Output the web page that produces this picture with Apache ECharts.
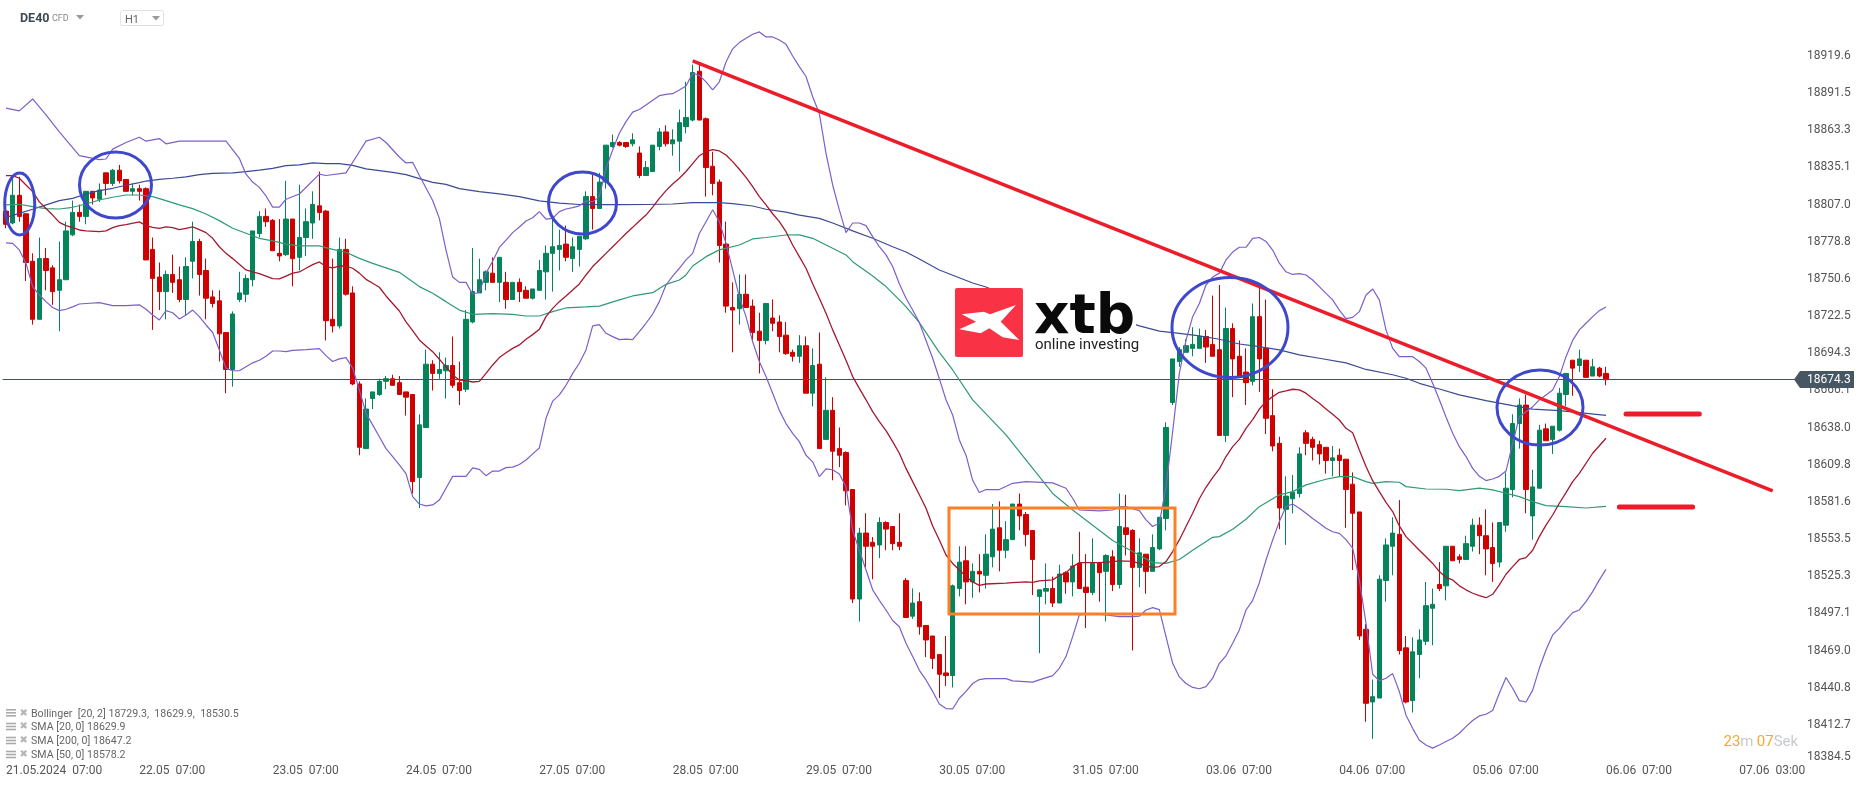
<!DOCTYPE html>
<html>
<head>
<meta charset="utf-8">
<style>html,body{margin:0;padding:0;background:#fff}#c{width:1866px;height:787px}</style>
<script src="https://cdn.jsdelivr.net/npm/echarts@6/dist/echarts.min.js"></script>
</head>
<body>
<div id="c"></div>
<script>
const xTickLabels = ['21.05.2024  07:00','22.05  07:00','23.05  07:00','24.05  07:00','27.05  07:00','28.05  07:00','29.05  07:00','30.05  07:00','31.05  07:00','03.06  07:00','04.06  07:00','05.06  07:00','06.06  07:00','07.06  03:00'];
const yTickValues = [18919.6,18891.5,18863.3,18835.1,18807.0,18778.8,18750.6,18722.5,18694.3,18666.1,18638.0,18609.8,18581.6,18553.5,18525.3,18497.1,18469.0,18440.8,18412.7,18384.5];
const lastPrice = 18674.3;
// [open, close, low, high]
const candles = [
[18802,18792,18789,18805],[18793,18814,18792,18827],[18814,18798,18794,18828],[18800,18763,18749,18800],[18764,18720,18716,18770],[18720,18766,18720,18782],[18766,18757,18742,18774],[18759,18741,18731,18761],[18742,18750,18711,18779],[18750,18787,18750,18794],
[18784,18801,18783,18810],[18801,18798,18794,18807],[18798,18817,18792,18817],[18817,18812,18807,18817],[18811,18818,18809,18823],[18831,18823,18814,18831],[18823,18833,18821,18834],[18833,18825,18823,18837],[18826,18817,18817,18826],[18817,18819,18814,18823],
[18819,18817,18810,18822],[18819,18765,18765,18820],[18773,18751,18712,18782],[18752,18741,18727,18763],[18741,18754,18720,18757],[18754,18748,18740,18769],[18750,18735,18733,18760],[18735,18760,18723,18767],[18764,18779,18751,18794],[18779,18754,18738,18781],
[18757,18736,18720,18766],[18737,18732,18729,18742],[18734,18709,18688,18742],[18710,18682,18664,18710],[18682,18724,18669,18726],[18735,18740,18733,18756],[18739,18751,18733,18754],[18750,18787,18745,18787],[18785,18798,18782,18802],[18798,18794,18790,18804],
[18795,18772,18772,18796],[18770,18768,18764,18796],[18769,18796,18768,18825],[18796,18766,18745,18796],[18767,18782,18757,18822],[18782,18794,18768,18804],[18793,18807,18781,18817],[18806,18801,18795,18832],[18802,18719,18704,18803],[18720,18715,18710,18766],
[18715,18773,18713,18782],[18773,18739,18738,18781],[18740,18671,18670,18745],[18671,18623,18617,18673],[18622,18652,18622,18660],[18660,18665,18652,18665],[18663,18673,18662,18675],[18673,18675,18667,18677],[18675,18670,18670,18678],[18672,18663,18663,18677],
[18665,18661,18647,18665],[18663,18597,18588,18663],[18600,18640,18577,18648],[18638,18686,18638,18697],[18686,18679,18666,18689],[18679,18682,18675,18695],[18681,18685,18660,18691],[18685,18670,18668,18707],[18672,18666,18655,18688],[18667,18720,18665,18727],
[18718,18741,18717,18774],[18740,18750,18740,18766],[18748,18756,18742,18757],[18755,18748,18748,18767],[18748,18767,18733,18767],[18748,18735,18728,18756],[18735,18748,18735,18748],[18748,18741,18733,18751],[18742,18736,18736,18745],[18736,18743,18735,18743],
[18742,18757,18742,18765],[18756,18770,18735,18776],[18770,18775,18741,18798],[18773,18776,18757,18788],[18777,18767,18764,18791],[18766,18775,18756,18782],[18773,18783,18760,18783],[18781,18813,18780,18817],[18813,18804,18788,18831],[18804,18824,18804,18831],
[18824,18852,18819,18852],[18851,18854,18850,18860],[18854,18852,18851,18855],[18854,18851,18850,18854],[18853,18856,18851,18861],[18846,18829,18827,18851],[18829,18835,18829,18840],[18832,18852,18832,18852],[18851,18862,18848,18865],[18862,18853,18851,18867],
[18853,18856,18844,18864],[18855,18869,18832,18879],[18866,18873,18861,18900],[18871,18907,18870,18913],[18908,18871,18871,18913],[18872,18835,18813,18873],[18836,18823,18814,18847],[18824,18776,18763,18826],[18777,18730,18725,18794],[18729,18727,18695,18748],
[18728,18739,18716,18754],[18739,18729,18729,18754],[18730,18710,18703,18735],[18711,18704,18679,18725],[18704,18732,18701,18732],[18721,18717,18711,18735],[18718,18707,18695,18723],[18708,18694,18693,18718],[18695,18692,18688,18697],[18692,18700,18687,18708],
[18700,18664,18664,18707],[18664,18685,18654,18698],[18686,18622,18622,18710],[18629,18651,18629,18676],[18651,18620,18598,18661],[18622,18617,18608,18638],[18619,18590,18579,18620],[18591,18508,18505,18591],[18508,18558,18491,18562],[18558,18548,18532,18573],
[18551,18548,18523,18555],[18549,18566,18539,18570],[18566,18561,18545,18567],[18563,18550,18545,18563],[18551,18548,18545,18573],[18522,18494,18494,18524],[18495,18505,18493,18516],[18506,18487,18481,18513],[18488,18477,18464,18488],[18480,18463,18455,18480],
[18466,18451,18433,18466],[18452,18450,18442,18480],[18450,18518,18441,18519],[18516,18536,18510,18548],[18537,18521,18504,18548],[18521,18529,18509,18535],[18529,18527,18513,18542],[18526,18542,18516,18557],[18540,18561,18532,18580],[18562,18545,18529,18582],
[18545,18553,18539,18567],[18553,18580,18553,18580],[18580,18571,18560,18588],[18572,18557,18548,18574],[18560,18538,18511,18560],[18510,18515,18467,18515],[18514,18516,18504,18535],[18516,18505,18502,18525],[18505,18527,18505,18534],[18528,18521,18512,18529],
[18521,18533,18510,18542],[18535,18516,18516,18559],[18517,18513,18486,18542],[18513,18535,18511,18554],[18535,18528,18506,18536],[18529,18541,18491,18542],[18540,18519,18514,18545],[18519,18563,18516,18588],[18562,18557,18541,18587],[18560,18532,18469,18561],
[18532,18543,18517,18554],[18542,18529,18512,18542],[18529,18547,18529,18557],[18546,18570,18545,18570],[18569,18638,18560,18642],[18657,18690,18655,18690],[18688,18697,18684,18699],[18695,18700,18695,18705],[18698,18701,18692,18714],[18698,18707,18698,18713],
[18707,18699,18687,18712],[18701,18692,18692,18738],[18697,18632,18632,18746],[18632,18713,18627,18729],[18713,18690,18661,18717],[18692,18677,18677,18704],[18680,18672,18655,18698],[18673,18722,18670,18732],[18722,18690,18665,18744],[18698,18645,18633,18735],
[18647,18624,18620,18667],[18626,18577,18561,18631],[18576,18586,18549,18601],[18584,18589,18573,18602],[18588,18618,18585,18623],[18634,18626,18617,18636],[18629,18623,18613,18631],[18625,18618,18610,18628],[18623,18613,18603,18623],[18613,18615,18601,18624],
[18617,18613,18601,18622],[18614,18591,18562,18614],[18595,18573,18530,18604],[18574,18480,18477,18574],[18485,18429,18415,18489],[18430,18434,18402,18447],[18433,18523,18433,18526],[18522,18549,18506,18554],[18548,18558,18526,18570],[18557,18469,18466,18583],
[18471,18430,18429,18480],[18431,18468,18422,18479],[18466,18477,18448,18485],[18476,18503,18473,18521],[18501,18504,18473,18516],[18519,18516,18514,18536],[18518,18548,18507,18548],[18548,18537,18537,18548],[18540,18538,18535,18542],[18538,18550,18538,18556],
[18548,18564,18544,18569],[18564,18556,18542,18570],[18556,18546,18526,18576],[18547,18535,18521,18566],[18536,18566,18532,18566],[18564,18592,18559,18604],[18591,18641,18585,18648],[18641,18655,18622,18660],[18655,18591,18573,18663],[18571,18593,18553,18606],
[18592,18636,18592,18640],[18637,18628,18628,18641],[18629,18639,18618,18639],[18636,18664,18635,18668],[18663,18679,18654,18679],[18689,18683,18662,18689],[18685,18690,18680,18697],[18689,18676,18676,18689],[18677,18684,18677,18690],[18683,18677,18676,18684],
[18679,18674.3,18670,18684]
];
const upperBand = [[0,18880],[2,18878],[4,18887],[6,18875],[8,18862],[11,18844],[14,18841],[15,18841.5],[16,18849],[18,18854],[20,18858],[21,18855],[23,18857],[24,18853],[26,18855],[33,18855],[35,18842],[36,18830],[37,18824],[38,18820],[39,18813.5],[40,18805],[41,18805],[42,18811],[44,18815],[47,18830],[48,18829],[51,18831],[53,18847],[54,18855],[56,18858],[57,18854],[59,18843],[60,18838.5],[61,18839],[62,18829],[64,18810],[65,18796.5],[66,18772.5],[67,18752],[68,18748],[69,18748],[70,18739],[71,18740.5],[72,18755],[73,18764],[74,18774.5],[75,18780],[76,18785.7],[77,18790],[78,18794.5],[79,18797],[80,18801.6],[81,18796],[82,18796.5],[83,18801.6],[84,18803.6],[85,18804.6],[86,18806],[87,18809.7],[88,18809],[89,18813],[90,18834.4],[91,18848.3],[92,18861],[93,18869.8],[94,18877],[95,18879],[96,18882.4],[97,18886],[98,18889.5],[99,18890.5],[100,18891],[101,18893.8],[102,18896.8],[103,18906.4],[104,18905],[105,18900],[106,18893.8],[107,18900],[108,18915],[109,18925],[110,18929.7],[111,18933],[112,18936],[113,18937.8],[114,18934],[115,18934],[116,18931.7],[117,18928.4],[118,18919.6],[119,18911.5],[120,18904],[121,18888.7],[122,18876],[123,18845.8],[124,18821.8],[125,18802.9],[126,18785.7],[127,18793],[128,18793],[129,18791],[130,18782.7],[131,18775],[132,18768.8],[133,18760],[134,18747],[135,18736],[136,18727],[137,18717.5],[138,18704],[139,18690.5],[140,18675],[141,18659],[142,18647.5],[143,18628.6],[144,18617],[145,18598],[146,18588.7],[147,18591],[149,18591],[151,18595.7],[153,18597],[157,18596],[159,18592],[160,18584.4],[161,18575.5],[164,18574.8],[166,18575.5],[167,18578],[168,18578],[170,18575],[171,18568],[172,18563],[173,18565.4],[174,18593],[175,18635],[176,18679],[177,18704],[178,18722],[179,18732],[180,18746],[181,18752],[182,18755],[183,18765],[184,18771],[185,18774.6],[186,18774.6],[187,18781.4],[188,18782],[189,18779],[190,18772.5],[191,18762.5],[192,18756],[193,18754],[194,18754.6],[195,18753.6],[196,18749.8],[197,18744.8],[198,18739.7],[199,18734.7],[200,18727],[201,18720.5],[202,18721.5],[203,18725.8],[204,18738.4],[205,18743],[206,18734.7],[207,18712],[208,18698],[209,18691.7],[210,18691.7],[211,18691.7],[212,18688],[213,18683],[214,18671.5],[215,18659],[216,18646],[217,18633.6],[218,18623.5],[219,18616],[220,18607],[221,18601],[222,18597.8],[223,18599],[224,18601],[225,18605],[226,18626],[227,18646],[228,18650],[229,18653.8],[230,18659],[231,18662.7],[232,18666.5],[233,18676.6],[234,18691.7],[235,18704],[236,18712],[237,18717],[238,18722],[239,18726.6],[240,18729.3]];
const lowerBand = [[0,18778],[1,18777.6],[2,18772.6],[3,18762.4],[4,18744.8],[5,18738.4],[6,18733.4],[7,18729],[8,18726.6],[9,18727.6],[10,18729.4],[11,18731.6],[12,18732],[14,18732.6],[16,18730.4],[18,18730.4],[20,18731],[21,18727.6],[22,18723.3],[23,18719.5],[24,18726.6],[25,18725],[26,18720.3],[27,18723.3],[28,18727],[29,18722],[30,18715.7],[31,18710],[32,18696.8],[33,18683],[34,18681],[35,18681],[36,18684],[37,18687],[38,18689],[39,18692],[40,18696],[41,18696],[42,18695.5],[43,18696.5],[45,18697],[47,18697.8],[48,18692.5],[49,18688],[50,18690],[51,18691],[52,18683],[53,18666.5],[54,18648.8],[55,18640],[56,18631],[57,18622],[58,18616],[59,18609.6],[60,18603],[61,18585.6],[62,18580],[63,18578.6],[64,18579.3],[65,18583],[66,18592],[67,18601],[69,18601],[70,18607.4],[71,18606.3],[72,18601.5],[73,18605],[74,18605],[75,18607.6],[76,18608],[77,18610],[78,18613.4],[79,18618],[80,18622.5],[81,18645],[82,18658],[83,18662.7],[84,18670],[85,18679],[86,18686.7],[87,18696.8],[88,18715],[89,18716],[90,18709.4],[91,18706.9],[92,18704.6],[93,18705],[94,18704.6],[95,18710.7],[96,18717],[97,18724],[98,18733.4],[99,18746],[100,18752.8],[101,18758.7],[102,18765],[103,18770],[104,18785],[105,18794],[106,18803],[107,18794],[108,18777.6],[109,18757.4],[110,18737],[111,18722],[112,18703],[113,18688],[114,18676.6],[115,18664],[116,18651],[117,18641],[118,18633.6],[119,18627.3],[120,18617],[121,18612],[122,18600.8],[123,18606.6],[124,18606],[125,18602.8],[126,18593],[127,18560],[128,18545],[129,18530],[130,18515],[131,18507],[132,18499.7],[133,18491.7],[134,18487],[135,18474.5],[136,18464.4],[137,18454],[138,18446.7],[139,18438],[140,18428.5],[141,18425],[142,18424.7],[143,18432.8],[144,18438],[145,18444],[146,18447],[147,18447.7],[150,18447.7],[151,18446],[154,18445],[155,18446.7],[157,18450],[158,18455.5],[159,18464.4],[160,18479.5],[161,18496],[163,18497],[165,18496],[167,18494.7],[169,18494.7],[170,18495],[171,18499.7],[172,18501.5],[173,18500],[174,18479.5],[175,18459.3],[176,18449],[177,18444],[178,18441],[179,18440],[180,18441.6],[181,18448],[182,18459.3],[183,18465],[184,18474.5],[185,18484.6],[186,18499.7],[187,18507],[188,18520.4],[189,18537.6],[190,18552.8],[191,18566.7],[192,18578],[193,18580],[194,18576.8],[195,18573],[196,18569],[197,18565.4],[198,18561.6],[199,18559],[200,18557.8],[201,18553],[202,18546.5],[203,18522.5],[204,18489.6],[205,18451],[206,18446],[207,18448],[208,18451.5],[209,18437.9],[210,18420],[211,18410],[212,18401],[213,18397.4],[214,18395],[215,18397.4],[216,18400],[217,18402.5],[218,18406.3],[219,18411.3],[220,18416],[221,18419.4],[222,18420.7],[223,18423.5],[224,18436.6],[225,18448.5],[226,18440.4],[227,18431],[228,18430],[229,18439],[230,18455.5],[231,18469.4],[232,18480.8],[233,18485.8],[234,18492],[235,18497.7],[236,18499.7],[237,18506],[238,18513.6],[239,18522.5],[240,18530.5]];
const sma20 = [[0,18828.9],[1,18828.9],[2,18826.9],[3,18821.8],[4,18816.8],[5,18809],[6,18804],[7,18799],[8,18793.5],[9,18791],[10,18789.5],[11,18787.7],[12,18787],[14,18786.4],[15,18787],[16,18789.5],[17,18791],[18,18791.7],[20,18793.8],[21,18791],[22,18789.7],[23,18789],[24,18790],[25,18789.5],[26,18788],[27,18789],[28,18790],[29,18788],[30,18785.7],[31,18781.4],[32,18775],[33,18770],[34,18766],[35,18761.7],[36,18757.4],[37,18755.9],[38,18754.6],[39,18752.8],[40,18750.8],[41,18750.6],[42,18752.8],[43,18755],[44,18755.9],[45,18758.7],[46,18761.4],[47,18763.5],[48,18760],[49,18759],[50,18760.4],[51,18760.4],[52,18758.7],[53,18755],[54,18750.3],[55,18747.3],[56,18744.3],[57,18737.7],[58,18732],[59,18726.3],[60,18718],[61,18711.4],[62,18704.4],[63,18699.8],[64,18695.5],[65,18689.7],[66,18684],[67,18677.8],[68,18674],[69,18673.5],[70,18672.5],[71,18673],[72,18679],[73,18685.4],[74,18691],[75,18694.7],[76,18698],[77,18700.6],[78,18704.9],[79,18708.4],[80,18712.4],[81,18722],[82,18728.3],[83,18733.4],[84,18737.7],[85,18742.2],[86,18746.8],[87,18753.6],[88,18760],[89,18765],[90,18770],[91,18775],[92,18780],[93,18785],[94,18789.7],[95,18794.5],[96,18799],[97,18805],[98,18811.7],[99,18817.5],[100,18822.6],[101,18826.9],[102,18832],[103,18838],[104,18844],[105,18847],[106,18848.6],[107,18847.6],[108,18844.5],[109,18839.5],[110,18833.7],[111,18827.6],[112,18820.5],[113,18813],[114,18806.7],[115,18800],[116,18794],[117,18786.4],[118,18776.3],[119,18767.5],[120,18758.7],[121,18747],[122,18736],[123,18724.6],[124,18712],[125,18700.6],[126,18689],[127,18676.6],[128,18667.7],[129,18659],[130,18650],[131,18642.5],[132,18635.6],[133,18627.3],[134,18618.5],[135,18607],[136,18597],[137,18587],[138,18576.8],[139,18563.4],[140,18552.8],[141,18541.4],[142,18535],[143,18530],[144,18525],[145,18521],[146,18518.4],[147,18519.4],[150,18520],[151,18520.5],[153,18521],[154,18520.7],[155,18521.7],[157,18522.5],[158,18525.8],[159,18528],[160,18532.6],[161,18535.6],[164,18535.6],[166,18536.4],[167,18537],[169,18536.6],[170,18535],[171,18533],[172,18532],[173,18532.6],[174,18536.4],[175,18544],[176,18552.8],[177,18563],[178,18573],[179,18584],[180,18592.7],[181,18600],[182,18606.6],[183,18616],[184,18623.5],[185,18629],[186,18637.4],[187,18644],[188,18652],[189,18657.6],[190,18661.4],[191,18664.7],[192,18665.7],[193,18667],[194,18666.5],[195,18664],[196,18660],[197,18656.4],[198,18652],[199,18648],[200,18643.7],[201,18637.4],[202,18634],[203,18621],[204,18608.4],[205,18597.7],[206,18589.4],[207,18581.3],[208,18574.3],[209,18563.4],[210,18555.3],[212,18545],[213,18540],[214,18535],[215,18528.8],[216,18524.5],[217,18522.5],[218,18518],[219,18515],[220,18512.4],[221,18510.6],[222,18509],[223,18511.6],[224,18518.7],[225,18526.8],[226,18532.6],[227,18538],[228,18539.4],[229,18545],[230,18555.3],[231,18564],[232,18571.7],[233,18580.6],[234,18588.7],[235,18597],[236,18603.3],[238,18618.5],[240,18629.9]];
const sma200 = [[0,18797.3],[2,18800.3],[4,18803.4],[6,18806.7],[8,18810],[10,18811.7],[12,18815],[14,18817.5],[16,18819.3],[18,18821.6],[20,18823.6],[21,18824.8],[23,18826],[25,18826.9],[27,18828],[29,18829.6],[31,18830.6],[34,18831],[36,18832],[38,18833],[40,18834.4],[42,18836.5],[44,18837],[46,18838.5],[48,18838],[50,18838],[52,18836.7],[54,18834],[56,18832.7],[58,18831.4],[60,18829.6],[62,18826.6],[64,18823.8],[66,18822.3],[68,18819],[71,18816.8],[74,18815],[77,18813],[80,18809.7],[83,18808],[86,18807],[89,18806.9],[92,18806.9],[96,18807],[100,18807.4],[103,18808.4],[107,18808.4],[109,18807.7],[112,18805.9],[114,18803.4],[117,18801.3],[119,18799],[122,18796.5],[124,18793],[127,18787],[130,18781.4],[133,18775],[135,18771],[137,18765.7],[140,18757.4],[145,18747.5],[147,18744.5],[150,18738.4],[155,18733.4],[160,18728.3],[165,18723.3],[170,18715],[173,18711],[176,18709.4],[179,18707.4],[182,18704.9],[185,18701.3],[188,18699.3],[191,18696.8],[194,18693],[197,18690.5],[201,18687],[204,18682],[208,18678],[210,18675.3],[212,18671.5],[215,18667.2],[218,18662.7],[222,18658.4],[226,18654.6],[229,18652],[233,18650.8],[236,18649.3],[240,18647.2]];
const sma50 = [[0,18806.7],[2,18807.2],[4,18805.4],[6,18803.9],[8,18803.6],[10,18804.9],[12,18807.4],[14,18810.4],[16,18812.5],[18,18814.2],[20,18814.2],[22,18813],[24,18810],[26,18806.7],[28,18803.9],[30,18799.8],[32,18794.8],[34,18789],[36,18785.2],[38,18781.4],[40,18779.4],[42,18777],[44,18775.6],[47,18775.6],[49,18773],[51,18770.8],[53,18766.2],[55,18762.4],[57,18759],[59,18755.6],[61,18748.5],[62,18744.8],[64,18739.7],[66,18733.4],[68,18727],[70,18723.8],[73,18724.3],[76,18723.8],[78,18722.5],[80,18722.5],[82,18725.8],[84,18728.6],[87,18729.4],[89,18730],[92,18734.7],[94,18737.7],[97,18740.2],[99,18746.5],[101,18749.8],[102,18753.6],[103,18760.4],[105,18767.5],[107,18772.6],[110,18776.3],[112,18780.9],[114,18782],[117,18783.9],[119,18784],[121,18781.4],[124,18773.8],[126,18768.8],[127,18763.7],[130,18752.8],[132,18744.8],[134,18734.7],[135,18729.6],[137,18717.5],[140,18695],[142,18681.6],[145,18658.9],[150,18632.4],[152,18619.7],[155,18600.8],[157,18588],[160,18575.5],[163,18564],[166,18552.3],[169,18544],[172,18535.6],[174,18535],[176,18538],[178,18545],[181,18554.8],[182,18555.3],[184,18560.9],[186,18568.5],[188,18578],[191,18587],[193,18589.4],[195,18594.5],[198,18598.8],[200,18600.8],[202,18600.8],[204,18597],[205,18595.7],[207,18597],[209,18596.5],[210,18593.2],[213,18591.4],[216,18591.2],[218,18590.2],[221,18592],[223,18590.7],[225,18588.2],[227,18585.6],[229,18581.8],[231,18578.8],[234,18578],[237,18577],[240,18578.2]];
const trendLine = [[103,18915.8],[265,18589.9]];
const resistanceLevel = [[243,18648.3],[254,18648.3]];
const supportLevel = [[242,18577.8],[253,18577.8]];
const legendRows = ['Bollinger  [20, 2] 18729.3,  18629.9,  18530.5','SMA [20, 0] 18629.9','SMA [200, 0] 18647.2','SMA [50, 0] 18578.2'];

const CATEGORY_COUNT = 279, LABEL_STEP = 20;
const categories = Array.from({length:CATEGORY_COUNT},(_,i)=> i%LABEL_STEP===0 ? (xTickLabels[i/LABEL_STEP]||'') : '');
const GREEN='#05835a', RED='#d00000';

function lineSeries(data,color,width,extra){
  return Object.assign({type:'line',data,symbol:'none',silent:true,animation:false,
    lineStyle:{color,width},z:5},extra||{});
}

// on-chart decorations
const deco = [];
function ell(cx,cy,rx,ry){deco.push({type:'ellipse',shape:{cx,cy,rx,ry},style:{fill:null,stroke:'#3f48cc',lineWidth:3},z:50,silent:true});}
ell(19.7,204,15,31); ell(115.5,185,36,33); ell(582.5,203,34,31); ell(1230,327.5,58,50); ell(1540,407.5,43,37.5);
deco.push({type:'rect',shape:{x:949,y:508,width:226,height:106},style:{fill:null,stroke:'#ff7f27',lineWidth:3},z:50,silent:true});
// logo
deco.push({type:'rect',shape:{x:955,y:288,width:181,height:70},style:{fill:'#fff'},z:40,silent:true});
deco.push({type:'rect',shape:{x:955,y:288,width:68,height:69,r:2},style:{fill:'#f93345'},z:41,silent:true});
deco.push({type:'polygon',shape:{points:[[961.7,314.3],[984,311.7],[990,314.3],[1016,305],[1000.7,321.7],[1019.3,340],[1002.7,337.3],[989.3,328.3],[980.7,333.3],[959.3,329.3],[976,321.7]]},style:{fill:'#fff'},z:42,silent:true});
deco.push({type:'text',x:1034,y:291,style:{text:'xtb',font:'bold 55px "DejaVu Sans"',fill:'#0a0a0a',verticalAlign:'top'},z:42,silent:true});
deco.push({type:'text',x:1035,y:345,style:{text:'online investing',font:'15px Roboto',fill:'#222',verticalAlign:'middle'},z:42,silent:true});
// price tag
deco.push({type:'rect',shape:{x:1854,y:376,width:12,height:8},style:{fill:'#fff'},z:59,silent:true});
deco.push({type:'polygon',shape:{points:[[1794,379.5],[1800,371],[1854,371],[1854,388],[1800,388]]},style:{fill:'#465763'},z:60,silent:true});
deco.push({type:'text',x:1807,y:380,style:{text:lastPrice.toFixed(1),font:'12px Roboto',fill:'#fff',verticalAlign:'middle'},z:61,silent:true});
// header
deco.push({type:'text',x:20,y:19,style:{text:'DE40',font:'bold 12.5px Roboto',fill:'#3c4a55',verticalAlign:'middle'},z:60,silent:true});
deco.push({type:'text',x:52,y:19,style:{text:'CFD',font:'9px Roboto',fill:'#888',verticalAlign:'middle'},z:60,silent:true});
deco.push({type:'polygon',shape:{points:[[76,15],[84,15],[80,19.5]]},style:{fill:'#999'},z:60,silent:true});
deco.push({type:'rect',shape:{x:120.5,y:10.5,width:43,height:15,r:2},style:{fill:'#fff',stroke:'#e2e2e2',lineWidth:1},z:60,silent:true});
deco.push({type:'text',x:125,y:20,style:{text:'H1',font:'11px Roboto',fill:'#666',verticalAlign:'middle'},z:61,silent:true});
deco.push({type:'polygon',shape:{points:[[152,16],[160,16],[156,20.5]]},style:{fill:'#999'},z:61,silent:true});
// indicator legend
legendRows.forEach((t,k)=>{
  const y=[714,727.7,741.7,755.7][k];
  [-4,-1,2].forEach(d=>deco.push({type:'rect',shape:{x:6,y:y+d-1,width:10,height:1.6},style:{fill:'#aaa'},z:60,silent:true}));
  deco.push({type:'text',x:19.5,y:y-1,style:{text:'\u2716',font:'10px "DejaVu Sans"',fill:'#b5b5b5',verticalAlign:'middle'},z:60,silent:true});
  deco.push({type:'text',x:31,y:y,style:{text:t,font:'10.6px Roboto',fill:'#666',verticalAlign:'middle'},z:60,silent:true});
});
// countdown
deco.push({type:'text',x:1723.5,y:742,style:{text:'{o|23}{g|m} {o|07}{g|Sek}',verticalAlign:'middle',
  rich:{o:{fill:'#f7a733',font:'15px Roboto'},g:{fill:'#c6cacd',font:'15px Roboto'}}},z:60,silent:true});

const chart = echarts.init(document.getElementById('c'),null,{renderer:'canvas'});
chart.setOption({
  animation:false,
  backgroundColor:'#fff',
  grid:{left:2.67,right:3.33,top:0,height:762,containLabel:false},
  xAxis:{type:'category',data:categories,boundaryGap:true,
    axisLine:{show:false},axisTick:{show:false},splitLine:{show:false},
    axisLabel:{interval:(i)=>i%LABEL_STEP===0,align:'left',margin:3,color:'#555',fontFamily:'Roboto',fontSize:12,hideOverlap:false}},
  yAxis:{type:'value',position:'right',min:18384.5,max:18962,offset:-55.67,scale:true,
    axisLine:{show:false},axisTick:{show:false},splitLine:{show:false},
    axisLabel:{customValues:yTickValues,align:'left',margin:0,color:'#555',fontFamily:'Roboto',fontSize:12,
      formatter:(v)=> v===18384.5 ? '{s|'+v.toFixed(1)+'}' : v.toFixed(1),
      rich:{s:{padding:[0,0,10,0],color:'#555',fontFamily:'Roboto',fontSize:12}}}},
  graphic:{elements:deco},
  series:[
    {type:'candlestick',data:candles,barWidth:5,silent:true,animation:false,z:2,
      itemStyle:{color:GREEN,color0:RED,borderColor:GREEN,borderColor0:RED,borderWidth:1},
      markLine:{silent:true,symbol:'none',animation:false,label:{show:false},
        lineStyle:{color:'#46535d',width:1.2,type:'solid'},data:[{yAxis:lastPrice}]}},
    lineSeries(sma200,'#3c4a92',1.2),
    lineSeries(sma50,'#2f9a74',1.2),
    lineSeries(sma20,'#a31a30',1.3),
    lineSeries(upperBand,'#7d5fc8',1.2),
    lineSeries(lowerBand,'#7d5fc8',1.2),
    lineSeries(trendLine,'#ed1c2a',3.5,{z:20}),
    lineSeries(resistanceLevel,'#ed1c2a',5,{z:20,lineStyle:{color:'#ed1c2a',width:5,cap:'round'}}),
    lineSeries(supportLevel,'#ed1c2a',5,{z:20,lineStyle:{color:'#ed1c2a',width:5,cap:'round'}})
  ]
});
</script>
</body>
</html>
